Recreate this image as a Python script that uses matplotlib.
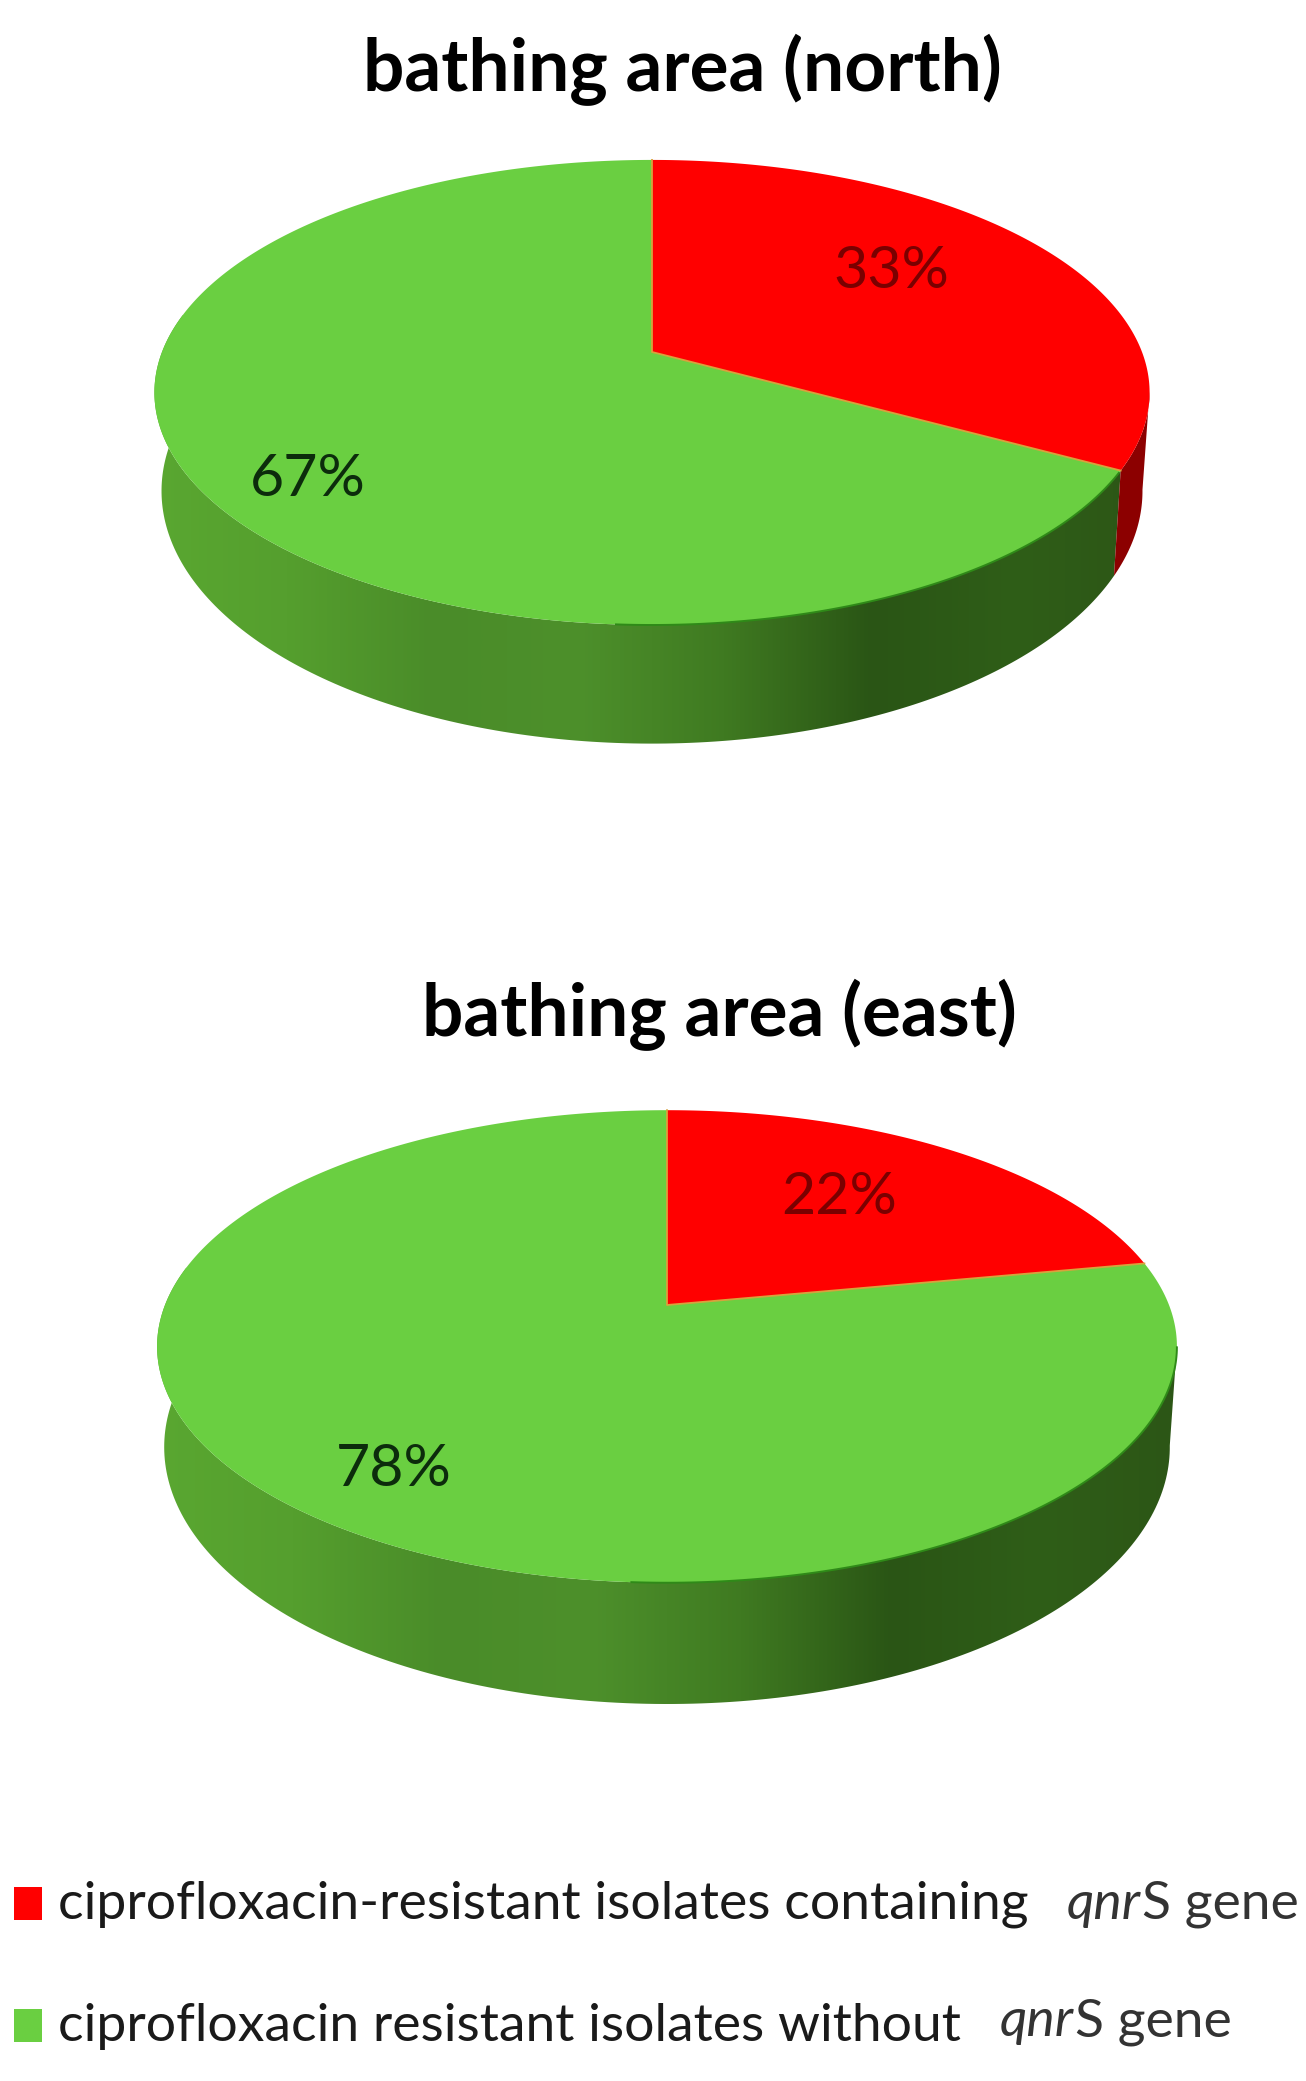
import matplotlib
matplotlib.use('Agg')
import matplotlib.pyplot as plt
import numpy as np
from matplotlib.colors import LinearSegmentedColormap
from matplotlib.patches import Polygon, Rectangle

plt.rcParams['font.family'] = ['Lato', 'DejaVu Sans']

titles = ['bathing area (north)', 'bathing area (east)']
with_qnrs = [33, 22]
without_qnrs = [67, 78]
legend_first = ['ciprofloxacin-resistant isolates containing', 'ciprofloxacin resistant isolates without']
gene_italic = 'qnr'
gene_rest = 'S gene'

RED = '#ff0000'
GREEN = '#6acf41'
DARK_RED = '#8c0000'
SEAM = '#d8a23c'

side_cmap = LinearSegmentedColormap.from_list('side', ['#5aa831', '#559f2e', '#4a8c29', '#4d902b', '#3f7a21', '#2a5515', '#2f5e18', '#2c5516'])


def project(theta, geom, base=False):
    # theta clockwise from top, perspective squashed circle
    x = np.sin(theta)
    y = np.cos(theta)
    k = geom['k']
    w = 1 + k * y
    if base:
        px = geom['cx'] + geom['a_base'] * x / w
        py = geom['cy_base'] - geom['b_base'] * y / w
    else:
        px = geom['cx'] + geom['a'] * x / w
        py = geom['cy'] - geom['b'] * y / w
    return px, py


def draw_wall(ax, geom, t0, t1, color=None, extent=None):
    t = np.linspace(t0, t1, 200)
    xt, yt = project(t, geom)
    xb, yb = project(t[::-1], geom, base=True)
    pts = np.column_stack([np.r_[xt, xb], np.r_[yt, yb]])
    if color is not None:
        ax.add_patch(Polygon(pts, closed=True, facecolor=color, edgecolor='none', zorder=2))
        return
    grad = np.linspace(0, 1, 512).reshape(1, -1)
    im = ax.imshow(grad, cmap=side_cmap, extent=extent, aspect='auto', zorder=2)
    im.set_clip_path(Polygon(pts, closed=True, transform=ax.transData))


def draw_pie(ax, title, title_xy, values, geom, label_xy):
    title_x, title_y = title_xy
    ax.text(title_x, title_y, title, ha='center', va='center', fontsize=52.5, fontweight='bold', color='black', zorder=5)

    seam = values[0] / sum(values) * 2 * np.pi
    left_limit = 1.5 * np.pi + 0.17
    right_limit = 0.5 * np.pi + 0.17

    # side of the disc
    y_top = min(geom['cy'] - geom['b'], geom['cy_base'] - geom['b_base'])
    y_bot = geom['cy_base'] + geom['b_base'] / (1 - geom['k'])
    extent = (geom['cx'] - geom['a_base'] - 30, geom['cx'] + geom['a_base'] + 30, y_bot, y_top)
    draw_wall(ax, geom, max(seam, right_limit), left_limit, extent=extent)
    if seam > right_limit:
        draw_wall(ax, geom, right_limit, seam, color=DARK_RED)

    # top face
    t_red = np.linspace(0, seam, 200)
    t_green = np.linspace(seam, 2 * np.pi, 400)
    xr, yr = project(t_red, geom)
    xg, yg = project(t_green, geom)
    apex_x, apex_y = geom['cx'], geom['cy']
    ax.fill(np.r_[apex_x, xr], np.r_[apex_y, yr], color=RED, lw=0, zorder=3)
    ax.fill(np.r_[apex_x, xg], np.r_[apex_y, yg], color=GREEN, lw=0, zorder=3)
    ax.plot([xr[0], apex_x, xr[-1]], [yr[0], apex_y, yr[-1]], color=SEAM, lw=1.3, zorder=4)
    # thin dark rim along the right of the front only
    mask = (t_green > max(seam, right_limit)) & (t_green < np.pi * 1.02)
    ax.plot(xg[mask], yg[mask], color='#2f8a18', lw=1.4, zorder=4)

    for val, (lx, ly), col in zip(values, label_xy, ['#7a0000', '#0c2c0c']):
        ax.text(lx, ly, f'{val}%', ha='center', va='center', fontsize=42.5, color=col, zorder=5)


fig = plt.figure(figsize=(13.06, 20.81), dpi=100)
ax = fig.add_axes([0, 0, 1, 1])

north = {'cx': 652, 'cy': 352, 'a': 490, 'b': 225.5, 'k': 0.174, 'a_base': 483, 'b_base': 245, 'cy_base': 447}
east = {'cx': 667, 'cy': 1305, 'a': 502, 'b': 229, 'k': 0.1755, 'a_base': 495, 'b_base': 249, 'cy_base': 1402}

draw_pie(ax, titles[0], (682, 70), [with_qnrs[0], without_qnrs[0]], north, [(891, 272), (308, 480)])
draw_pie(ax, titles[1], (719, 1015), [with_qnrs[1], without_qnrs[1]], east, [(839, 1197), (394, 1469)])

ax.set_xlim(0, 1306)
ax.set_ylim(2081, 0)
ax.axis('off')

# legend drawn by hand, the gene name sits apart from the rest of the line
ax.add_patch(Rectangle((14, 1887), 28, 33, facecolor=RED, edgecolor='none'))
ax.add_patch(Rectangle((14, 2009), 28, 33, facecolor=GREEN, edgecolor='none'))

fig.canvas.draw()
for y_text, y_gene, x_gene, first in zip([1919, 2041], [1919, 2036], [1067, 1000], legend_first):
    ax.text(58, y_text, first, fontsize=38.5, color='#1a1a1a', va='baseline')
    t = ax.text(x_gene, y_gene, gene_italic, fontsize=38.5, style='italic', color='#333333', va='baseline')
    bb = t.get_window_extent(fig.canvas.get_renderer())
    x_next = ax.transData.inverted().transform((bb.x1, bb.y0))[0]
    ax.text(x_next + 1, y_gene, gene_rest, fontsize=38.5, color='#333333', va='baseline')

fig.savefig('out.png', dpi=100, facecolor='white')
